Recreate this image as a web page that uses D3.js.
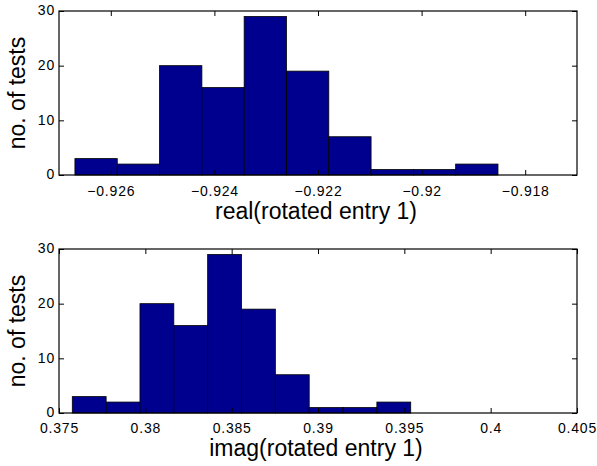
<!DOCTYPE html>
<html>
<head>
<meta charset="utf-8">
<script src="https://cdn.jsdelivr.net/npm/d3@7"></script>
<style>
  html, body { margin: 0; padding: 0; background: #fff; }
  svg { display: block; }
  text { font-family: "Liberation Sans", Arial, Helvetica, sans-serif; fill: #000; }
</style>
</head>
<body>
<svg id="chart" width="597" height="466"></svg>
<script>
// ---- data ----
const countsReal = [3, 2, 20, 16, 29, 19, 7, 1, 1, 2];
const binCentersReal = [-0.926284, -0.925467, -0.924650, -0.923834, -0.923017, -0.922200, -0.921384, -0.920567, -0.919750, -0.918934];
const xTicksReal = [-0.926, -0.924, -0.922, -0.92, -0.918];
const xDomainReal = [-0.927, -0.917];

const countsImag = [3, 2, 20, 16, 29, 19, 7, 1, 1, 2];
const binCentersImag = [0.37675, 0.37871, 0.38067, 0.38263, 0.38459, 0.38655, 0.38851, 0.39047, 0.39243, 0.39439];
const xTicksImag = [0.375, 0.38, 0.385, 0.39, 0.395, 0.4, 0.405];
const xDomainImag = [0.375, 0.405];

const yTicks = [0, 10, 20, 30];
const yDomain = [0, 30];

const yLabel = "no. of tests";
const xLabelReal = "real(rotated entry 1)";
const xLabelImag = "imag(rotated entry 1)";

// ---- drawing ----
const svg = d3.select("#chart");
const fmt = v => String(v).replace("-", "\u2212");
const tickFont = "14px";
const tickSpacing = "0.8px";

function styleTickText(sel) {
  sel.style("font-size", tickFont)
     .style("letter-spacing", tickSpacing)
     .style("font-family", "'Liberation Sans', Arial, sans-serif")
     .attr("fill", "#000");
}

function panel(cfg) {
  const { left, right, top, bottom, centers, counts, xTicks, xDomain, xLabel, tickBaseline, labelBaseline } = cfg;
  const x = d3.scaleLinear().domain(xDomain).range([left, right]);
  const y = d3.scaleLinear().domain(yDomain).range([bottom, top]);
  const binW = centers[1] - centers[0];
  const g = svg.append("g");

  g.selectAll("rect.bar").data(centers).join("rect")
    .attr("class", "bar")
    .attr("x", d => x(d - binW / 2))
    .attr("width", d => x(d + binW / 2) - x(d - binW / 2))
    .attr("y", (d, i) => y(counts[i]))
    .attr("height", (d, i) => y(0) - y(counts[i]))
    .attr("fill", "#00008F")
    .attr("stroke", "#000")
    .attr("stroke-width", 0.8);

  // box
  g.append("rect")
    .attr("x", left).attr("y", top)
    .attr("width", right - left).attr("height", bottom - top)
    .attr("fill", "none").attr("stroke", "#000").attr("stroke-width", 1.2);

  // bottom axis (inward ticks)
  const ax = g.append("g").attr("transform", `translate(0,${bottom})`)
    .call(d3.axisBottom(x).tickValues(xTicks).tickFormat(fmt).tickSizeInner(-5).tickSizeOuter(0).tickPadding(0));
  ax.select(".domain").remove();
  ax.selectAll("line").attr("stroke", "#000");
  ax.selectAll("text").attr("dy", null).attr("y", tickBaseline - bottom).call(styleTickText);

  // top axis ticks
  const axt = g.append("g").attr("transform", `translate(0,${top})`)
    .call(d3.axisTop(x).tickValues(xTicks).tickFormat("").tickSizeInner(-5).tickSizeOuter(0));
  axt.select(".domain").remove();
  axt.selectAll("line").attr("stroke", "#000");

  // left axis
  const ay = g.append("g").attr("transform", `translate(${left},0)`)
    .call(d3.axisLeft(y).tickValues(yTicks).tickSizeInner(-5).tickSizeOuter(0).tickPadding(4));
  ay.select(".domain").remove();
  ay.selectAll("line").attr("stroke", "#000");
  ay.selectAll("text").attr("dy", "0.28em").call(styleTickText);

  // right axis ticks
  const ayr = g.append("g").attr("transform", `translate(${right},0)`)
    .call(d3.axisRight(y).tickValues(yTicks).tickFormat("").tickSizeInner(-5).tickSizeOuter(0));
  ayr.select(".domain").remove();
  ayr.selectAll("line").attr("stroke", "#000");

  // labels
  g.append("text")
    .attr("x", (left + right) / 2 - 2).attr("y", labelBaseline)
    .attr("text-anchor", "middle")
    .style("font-size", "23px")
    .text(xLabel);

  g.append("text")
    .attr("transform", `translate(25,${(top + bottom) / 2}) rotate(-90)`)
    .attr("text-anchor", "middle")
    .style("font-size", "23px")
    .text(yLabel);
}

panel({ left: 59, right: 577, top: 11, bottom: 175, centers: binCentersReal, counts: countsReal,
        xTicks: xTicksReal, xDomain: xDomainReal, xLabel: xLabelReal, tickBaseline: 196, labelBaseline: 219 });
panel({ left: 59, right: 577, top: 249, bottom: 413, centers: binCentersImag, counts: countsImag,
        xTicks: xTicksImag, xDomain: xDomainImag, xLabel: xLabelImag, tickBaseline: 433, labelBaseline: 456 });
</script>
</body>
</html>
